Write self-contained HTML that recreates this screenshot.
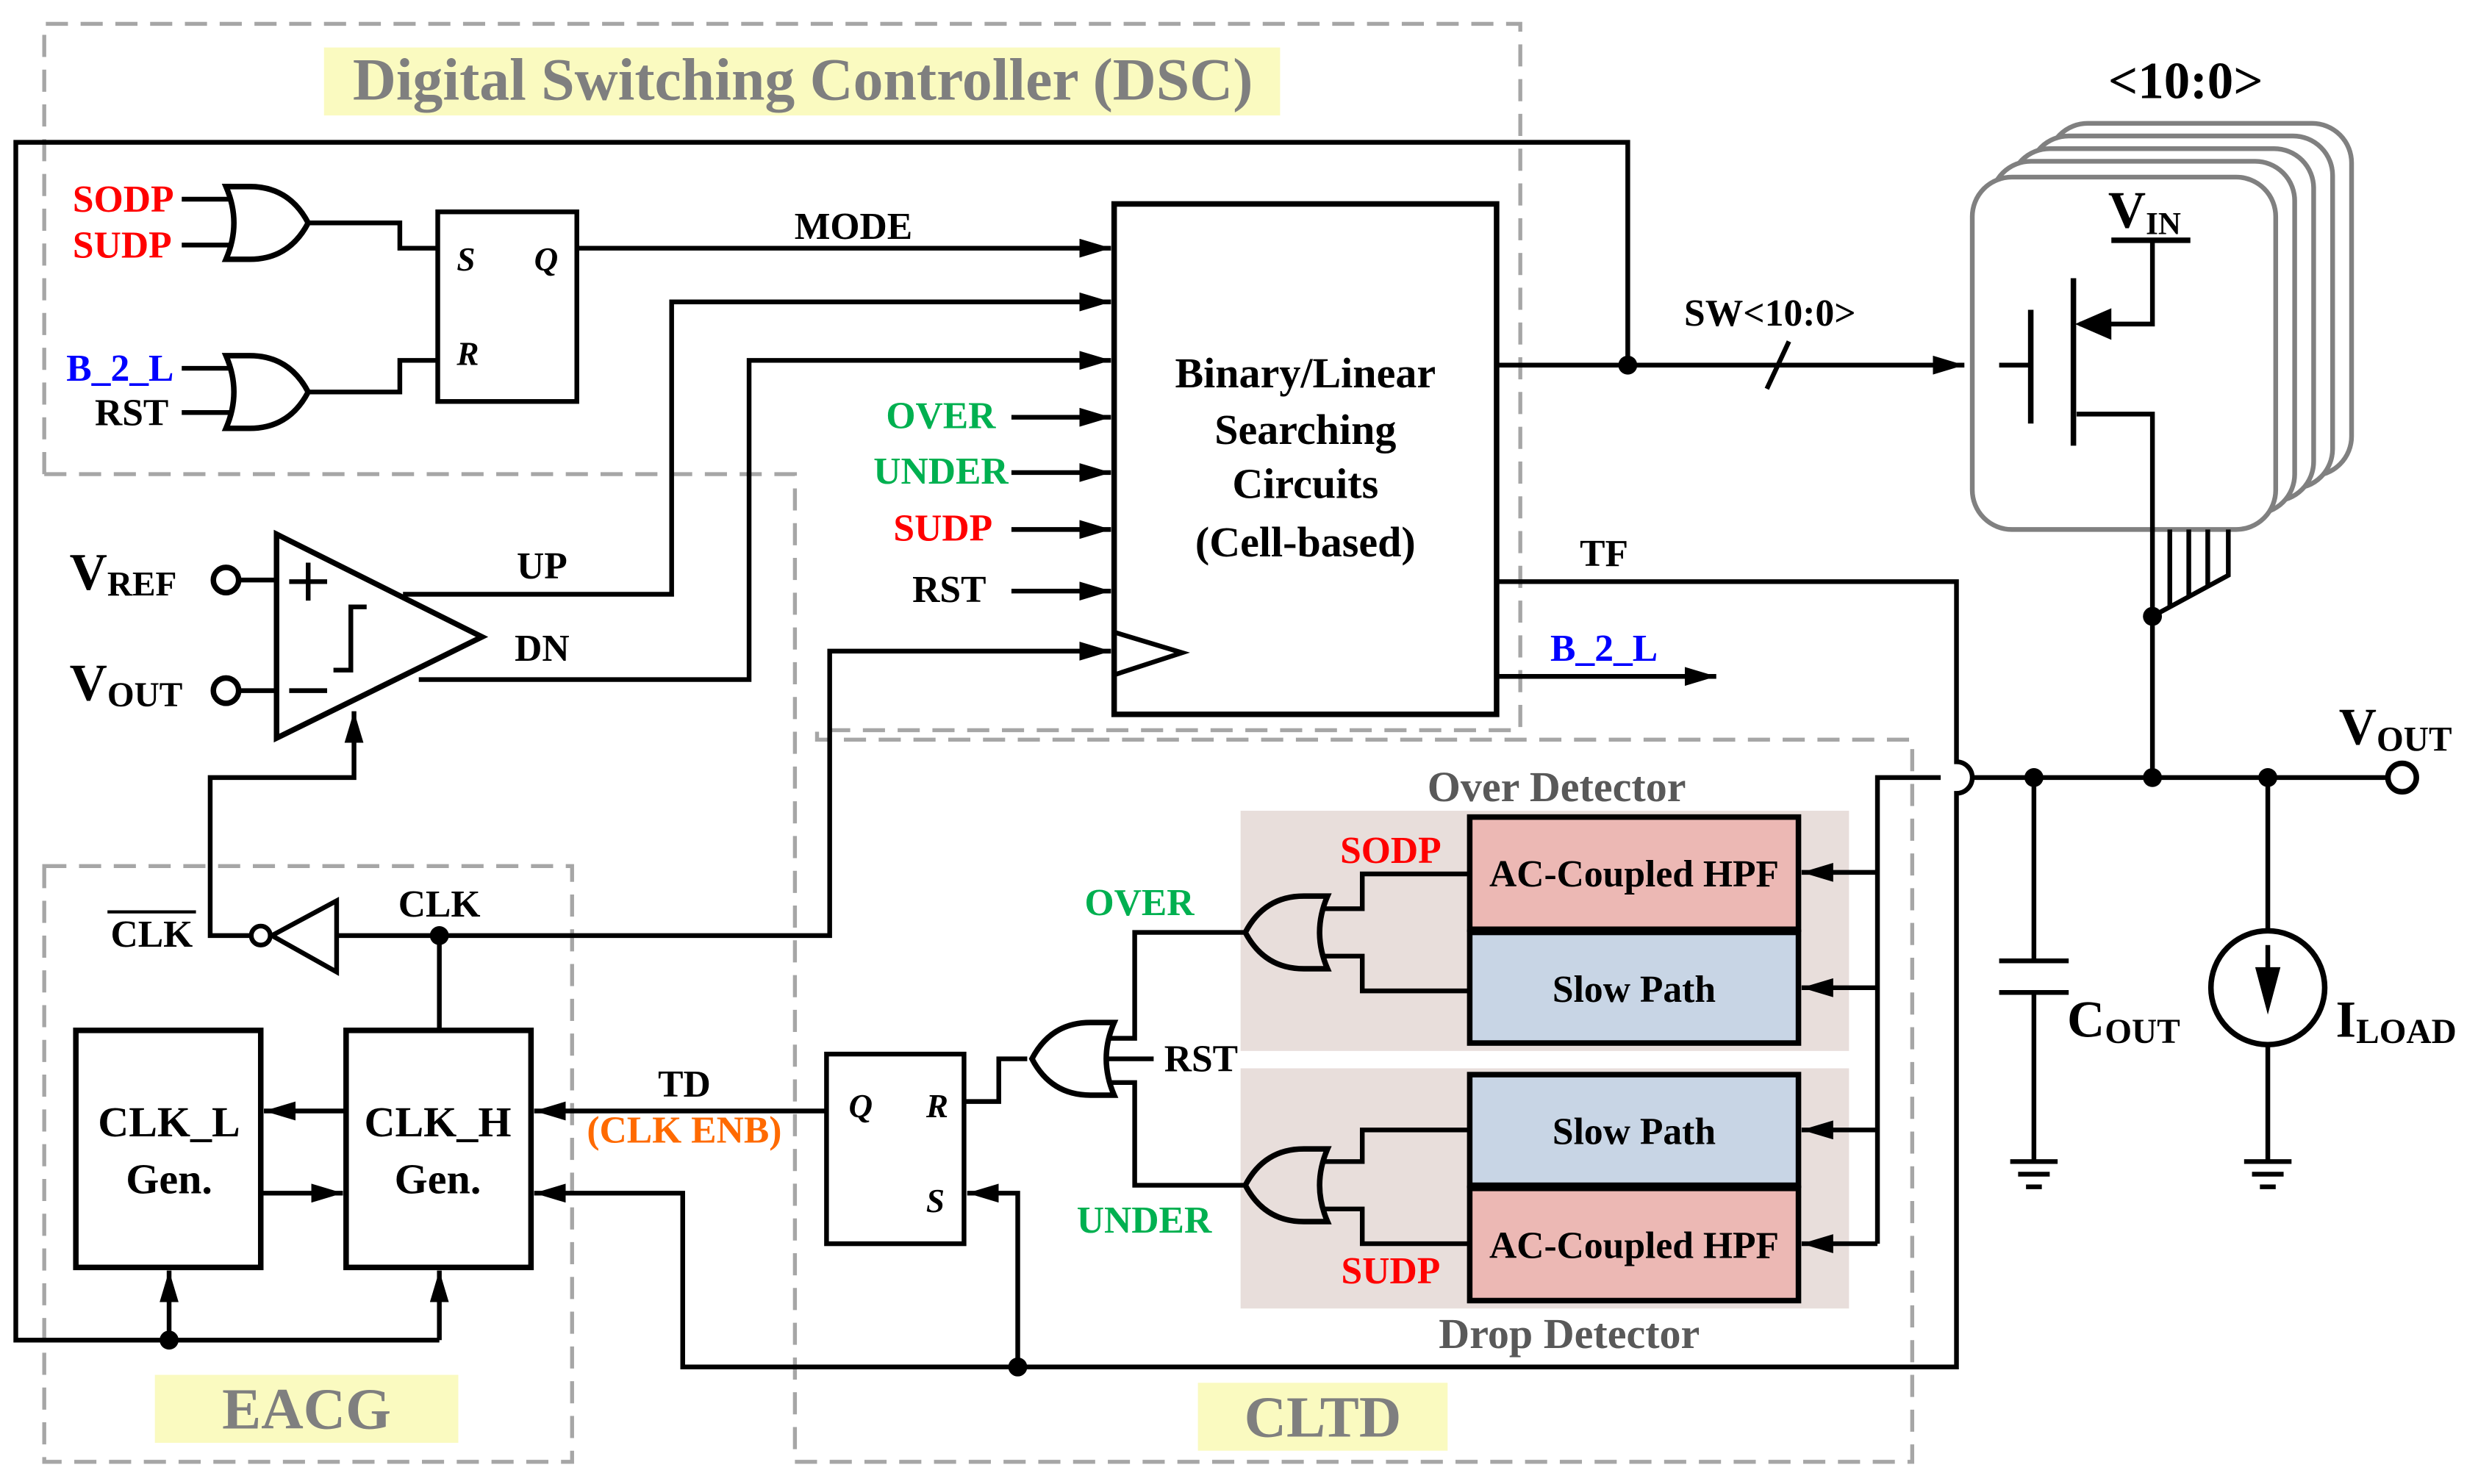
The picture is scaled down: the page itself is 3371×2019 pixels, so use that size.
<!DOCTYPE html>
<html><head><meta charset="utf-8"><style>
html,body{margin:0;padding:0;background:#fff;}
svg{display:block;}
text{font-family:"Liberation Serif",serif;font-weight:bold;}
</style></head><body>
<svg width="3371" height="2019" viewBox="0 0 1568 939" xmlns="http://www.w3.org/2000/svg">
<defs>
<marker id="ah" viewBox="0 0 20 12" markerWidth="20" markerHeight="12" refX="20" refY="6" orient="auto" markerUnits="userSpaceOnUse"><path d="M0,0 L20,6 L0,12 Z" fill="#000"/></marker>
<g id="or"><path d="M0,0 H15 Q40,0 52,23 Q40,46 15,46 H0 Q10,23 0,0 Z" fill="#fff" stroke="#000" stroke-width="3.5"/></g>
<g id="orp"><path d="M0,0 H15 Q40,0 52,23 Q40,46 15,46 H0 Q10,23 0,0 Z" fill="#e8dedb" stroke="#000" stroke-width="3.5"/></g>
</defs>

<!-- yellow labels -->
<rect x="205" y="30" width="605" height="43" fill="#fafac0"/>
<text x="508" y="63" font-size="38" fill="#7f7f7f" text-anchor="middle">Digital Switching Controller (DSC)</text>
<rect x="98" y="870" width="192" height="43" fill="#fafac0"/>
<text x="194" y="904" font-size="37" fill="#7f7f7f" text-anchor="middle">EACG</text>
<rect x="758" y="875" width="158" height="43" fill="#fafac0"/>
<text x="837" y="909" font-size="37" fill="#7f7f7f" text-anchor="middle">CLTD</text>

<!-- dashed boxes -->
<g fill="none" stroke="#a6a6a6" stroke-width="2.5" stroke-dasharray="14,8">
<path d="M28,300 V15 H962 V462 H517"/>
<path d="M28,300 H503 V925 H1210 V468 H517 V462"/>
<rect x="28" y="548" width="334" height="377"/>
</g>

<!-- detector backgrounds -->
<rect x="785" y="513" width="385" height="152" fill="#e8dedb"/>
<rect x="785" y="676" width="385" height="152" fill="#e8dedb"/>
<text x="985" y="507" font-size="27" fill="#595959" text-anchor="middle">Over Detector</text>
<text x="993" y="853" font-size="27" fill="#595959" text-anchor="middle">Drop Detector</text>
<g stroke="#000" stroke-width="3.5">
<rect x="930" y="517" width="208" height="71" fill="#ecb8b4"/>
<rect x="930" y="590" width="208" height="70" fill="#c8d5e5"/>
<rect x="930" y="680" width="208" height="70" fill="#c8d5e5"/>
<rect x="930" y="752" width="208" height="71" fill="#ecb8b4"/>
</g>
<g font-size="24" text-anchor="middle">
<text x="1034" y="561">AC-Coupled HPF</text>
<text x="1034" y="634">Slow Path</text>
<text x="1034" y="724">Slow Path</text>
<text x="1034" y="796">AC-Coupled HPF</text>
</g>

<!-- stacked cards -->
<g fill="#fff" stroke="#808080" stroke-width="3">
<rect x="1296" y="78" width="192" height="223" rx="25"/>
<rect x="1284" y="86" width="192" height="223" rx="25"/>
<rect x="1272" y="94" width="192" height="223" rx="25"/>
<rect x="1260" y="102" width="192" height="223" rx="25"/>
<rect x="1248" y="112" width="192" height="223" rx="25"/>
</g>

<!-- wires -->
<g fill="none" stroke="#000" stroke-width="3">
<path d="M1030,231 V90 H10 V848 H278"/>
<path d="M107,848 V804" marker-end="url(#ah)"/>
<path d="M278,848 V804" marker-end="url(#ah)"/>
<path d="M115,126 H148 M115,155 H148"/>
<path d="M195,141 H253 V157 H277"/>
<path d="M115,233 H148 M115,261 H148"/>
<path d="M195,248 H253 V228 H277"/>
<rect x="277" y="134" width="88" height="120"/>
<path d="M365,157 H703" marker-end="url(#ah)"/>
<rect x="705" y="129" width="242" height="323" stroke-width="3.5"/>
<path d="M705,400 L748,413 L705,427"/>
<path d="M255,376 H425 V191 H703" marker-end="url(#ah)"/>
<path d="M265,430 H474 V228 H703" marker-end="url(#ah)"/>
<path d="M640,264 H703" marker-end="url(#ah)"/>
<path d="M640,299 H703" marker-end="url(#ah)"/>
<path d="M640,335 H703" marker-end="url(#ah)"/>
<path d="M640,374 H703" marker-end="url(#ah)"/>
<path d="M213,592 H525 V412 H703" marker-end="url(#ah)"/>
<path d="M947,231 H1243" marker-end="url(#ah)"/>
<path d="M1118,246 L1132,216"/>
<path d="M947,428 H1086" marker-end="url(#ah)"/>
<path d="M947,368 H1238 V482 A10,10 0 0 1 1238,502 V865 H432 V755 H338" marker-end="url(#ah)"/>
<path d="M175,338 L305,403 L175,467 Z" stroke-width="3.5"/>
<path d="M151,367 H175 M151,437 H175"/>
<path d="M211,424 H222 V384 H232"/>
<path d="M165,592 H133 V492 H224 V450" marker-end="url(#ah)"/>
<path d="M213,570 V615 L172,592 Z"/>
<path d="M278,592 V652"/>
<rect x="48" y="652" width="117" height="150" stroke-width="3.5"/>
<rect x="219" y="652" width="117" height="150" stroke-width="3.5"/>
<path d="M219,703 H167" marker-end="url(#ah)"/>
<path d="M165,755 H217" marker-end="url(#ah)"/>
<rect x="523" y="667" width="87" height="120"/>
<path d="M523,703 H338" marker-end="url(#ah)"/>
<path d="M644,865 V755 H612" marker-end="url(#ah)"/>
<path d="M610,697 H632 V670 H650"/>
<path d="M700,657 H718 V590 H788"/>
<path d="M700,685 H718 V750 H788"/>
<path d="M700,670 H730"/>
<path d="M835,575 H862 V553 H930"/>
<path d="M835,605 H862 V627 H930"/>
<path d="M835,735 H862 V715 H930"/>
<path d="M835,765 H862 V787 H930"/>
<path d="M1228,492 H1188 V787"/>
<path d="M1188,552 H1140" marker-end="url(#ah)"/>
<path d="M1188,625 H1140" marker-end="url(#ah)"/>
<path d="M1188,715 H1140" marker-end="url(#ah)"/>
<path d="M1188,787 H1140" marker-end="url(#ah)"/>
<path d="M1248,492 H1512"/>
<path d="M1287,492 V608 M1265,608 H1309 M1265,628 H1309 M1287,628 V735 M1272,735 H1302 M1277,743 H1297 M1282,751 H1292"/>
<path d="M1435,492 V589 M1435,661 V735 M1420,735 H1450 M1425,743 H1445 M1430,751 H1440"/>
<circle cx="1435" cy="625" r="36" stroke-width="3.5"/>
<path d="M1435,598 V632"/>
<!-- transistor -->
<path d="M1362,492 V262 H1314"/>
<path d="M1312,176 V282" stroke-width="3.5"/>
<path d="M1285,196 V268" stroke-width="3.5"/>
<path d="M1265,231 H1285"/>
<path d="M1362,152 V205 H1316"/>
<path d="M1336,152 H1386" stroke-width="3.5"/>
<path d="M1362,390 L1410,364 V335 M1373,384 V335 M1385,378 V335 M1397,371 V335"/>
</g>
<path d="M1313,205 L1336,195 L1336,215 Z"/>
<path d="M1427,612 L1443,612 L1435,642 Z"/>

<!-- gates -->
<use href="#or" x="143" y="118"/>
<use href="#or" x="143" y="225"/>
<use href="#or" transform="translate(705,647) scale(-1,1)"/>
<use href="#orp" transform="translate(840,567) scale(-1,1)"/>
<use href="#orp" transform="translate(840,727) scale(-1,1)"/>

<!-- circles & dots -->
<g fill="#fff" stroke="#000" stroke-width="3.5">
<circle cx="143" cy="367" r="8"/>
<circle cx="143" cy="437" r="8"/>
<circle cx="1520" cy="492" r="9"/>
</g>
<circle cx="165" cy="592" r="6" fill="#fff" stroke="#000" stroke-width="3"/>
<g fill="#000">
<circle cx="1030" cy="231" r="6"/>
<circle cx="278" cy="592" r="6"/>
<circle cx="107" cy="848" r="6"/>
<circle cx="644" cy="865" r="6"/>
<circle cx="1287" cy="492" r="6"/>
<circle cx="1362" cy="492" r="6"/>
<circle cx="1435" cy="492" r="6"/>
<circle cx="1362" cy="390" r="6"/>
</g>

<!-- labels -->
<g font-size="24">
<text x="46" y="134" fill="#ff0000">SODP</text>
<text x="46" y="163" fill="#ff0000">SUDP</text>
<text x="42" y="241" fill="#0000ff">B_2_L</text>
<text x="60" y="269">RST</text>
<text x="540" y="151" text-anchor="middle">MODE</text>
<text x="630" y="271" fill="#00b050" text-anchor="end">OVER</text>
<text x="638" y="306" fill="#00b050" text-anchor="end">UNDER</text>
<text x="628" y="342" fill="#ff0000" text-anchor="end">SUDP</text>
<text x="624" y="381" text-anchor="end">RST</text>
<text x="343" y="366" text-anchor="middle">UP</text>
<text x="343" y="418" text-anchor="middle">DN</text>
<text x="1015" y="358" text-anchor="middle">TF</text>
<text x="1015" y="418" fill="#0000ff" text-anchor="middle">B_2_L</text>
<text x="1120" y="206" text-anchor="middle">SW&lt;10:0&gt;</text>
<text x="278" y="580" text-anchor="middle">CLK</text>
<text x="96" y="599" text-anchor="middle">CLK</text>
<text x="433" y="694" text-anchor="middle">TD</text>
<text x="433" y="723" fill="#ff6a00" text-anchor="middle">(CLK ENB)</text>
<text x="760" y="678" text-anchor="middle">RST</text>
<text x="721" y="579" fill="#00b050" text-anchor="middle">OVER</text>
<text x="724" y="780" fill="#00b050" text-anchor="middle">UNDER</text>
<text x="880" y="546" fill="#ff0000" text-anchor="middle">SODP</text>
<text x="880" y="812" fill="#ff0000" text-anchor="middle">SUDP</text>
</g>
<path d="M68,577 H124" stroke="#000" stroke-width="2"/>
<g font-size="27" text-anchor="middle">
<text x="826" y="245">Binary/Linear</text>
<text x="826" y="281">Searching</text>
<text x="826" y="315">Circuits</text>
<text x="826" y="352">(Cell-based)</text>
<text x="107" y="719">CLK_L</text>
<text x="107" y="755">Gen.</text>
<text x="277" y="719">CLK_H</text>
<text x="277" y="755">Gen.</text>
</g>
<g font-size="21" font-style="italic" style="font-family:'Liberation Sans',sans-serif">
<text x="289" y="171">S</text><text x="338" y="171">Q</text><text x="289" y="231">R</text>
<text x="537" y="707">Q</text><text x="586" y="707">R</text><text x="586" y="767">S</text>
</g>
<path d="M183,368 H207 M195,356 V380 M183,437 H207" stroke="#000" stroke-width="3"/>
<g font-size="33" fill="#000">
<text x="44" y="373">V<tspan font-size="22" dy="4">REF</tspan></text>
<text x="44" y="443">V<tspan font-size="22" dy="4">OUT</tspan></text>
<text x="1480" y="471">V<tspan font-size="22" dy="4">OUT</tspan></text>
<text x="1308" y="656">C<tspan font-size="22" dy="4">OUT</tspan></text>
<text x="1478" y="656">I<tspan font-size="22" dy="4">LOAD</tspan></text>
<text x="1334" y="144">V<tspan font-size="20" dy="4">IN</tspan></text>
<text x="1383" y="62" text-anchor="middle">&lt;10:0&gt;</text>
</g>
</svg>
</body></html>
